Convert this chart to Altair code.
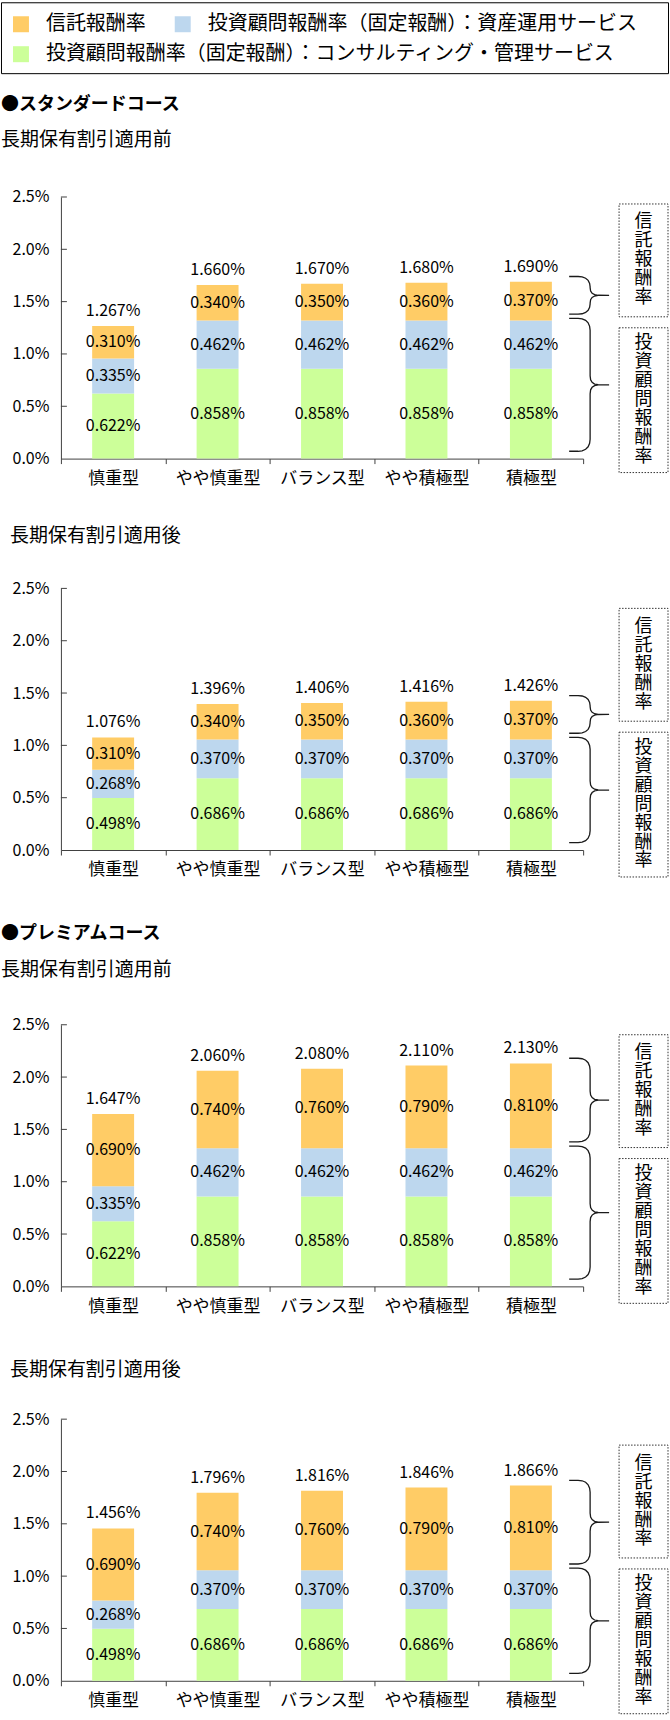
import altair as alt
import pandas as pd

FONT = "Noto Sans CJK JP"
AX = "#404040"

# ---------------- data ----------------
categories = ["慎重型", "やや慎重型", "バランス型", "やや積極型", "積極型"]
series_names = [
    "信託報酬率",
    "投資顧問報酬率（固定報酬）：資産運用サービス",
    "投資顧問報酬率（固定報酬）：コンサルティング・管理サービス",
]
series_colors = ["#FFCC66", "#BDD7EE", "#CCFF99"]

course_titles = ["●スタンダードコース", "●プレミアムコース"]
sub_titles = ["長期保有割引適用前", "長期保有割引適用後"]
box_labels = ["信託報酬率", "投資顧問報酬率"]
y_ticks = [0.0, 0.5, 1.0, 1.5, 2.0, 2.5]

std_pre_trust = [0.310, 0.340, 0.350, 0.360, 0.370]
std_pre_asset = [0.335, 0.462, 0.462, 0.462, 0.462]
std_pre_consult = [0.622, 0.858, 0.858, 0.858, 0.858]
std_pre_total = [1.267, 1.660, 1.670, 1.680, 1.690]

std_post_trust = [0.310, 0.340, 0.350, 0.360, 0.370]
std_post_asset = [0.268, 0.370, 0.370, 0.370, 0.370]
std_post_consult = [0.498, 0.686, 0.686, 0.686, 0.686]
std_post_total = [1.076, 1.396, 1.406, 1.416, 1.426]

prm_pre_trust = [0.690, 0.740, 0.760, 0.790, 0.810]
prm_pre_asset = [0.335, 0.462, 0.462, 0.462, 0.462]
prm_pre_consult = [0.622, 0.858, 0.858, 0.858, 0.858]
prm_pre_total = [1.647, 2.060, 2.080, 2.110, 2.130]

prm_post_trust = [0.690, 0.740, 0.760, 0.790, 0.810]
prm_post_asset = [0.268, 0.370, 0.370, 0.370, 0.370]
prm_post_consult = [0.498, 0.686, 0.686, 0.686, 0.686]
prm_post_total = [1.456, 1.796, 1.816, 1.846, 1.866]

# ---------------- layout ----------------
PW = 523
PH = 262
YMAX = 2.5
BRACE_X = 509
BOX_X1, BOX_X2 = 559, 608
BOX_LH = 19
BOX_FS = 18

one = pd.DataFrame({"k": [0]})
yscale = alt.Scale(domain=[0, YMAX], nice=False, zero=False)

x_axis = alt.Axis(
    title=None, labelAngle=0, tickBand="extent", ticks=True, tickSize=5,
    tickColor=AX, domainColor=AX, labelPadding=7, labelFont=FONT,
    labelFontSize=17, labelColor="#000", grid=False, labelLimit=300,
)
y_axis = alt.Axis(
    title=None, values=y_ticks, labelExpr="format(datum.value, '.1f') + '%'",
    ticks=False, labelPadding=12, grid=False, domainColor=AX,
    labelFont=FONT, labelFontSize=16, labelColor="#000",
)
x_enc = alt.X("cat:N", sort=categories,
              scale=alt.Scale(domain=categories, paddingInner=0, paddingOuter=0),
              axis=x_axis)


def brace_shape(h):
    m = h / 2.0
    f = min(1.0, m / 22.0)
    top = [(0, 0), (9, 0), (13, 0.5 * f), (16.5, 2 * f), (19, 4.5 * f), (20.5, 8 * f), (21, 12 * f)]
    mid_up = [(21, m - 9 * f), (21.5, m - 5 * f), (23, m - 2.5 * f), (25.5, m - 0.8 * f), (29, m - 0.1 * f), (40, m)]
    mid_dn = [(29, m + 0.1 * f), (25.5, m + 0.8 * f), (23, m + 2.5 * f), (21.5, m + 5 * f), (21, m + 9 * f)]
    bot = [(21, h - 12 * f), (20.5, h - 8 * f), (19, h - 4.5 * f), (16.5, h - 2 * f), (13, h - 0.5 * f), (9, h), (0, h)]
    return top + mid_up + mid_dn + bot


def make_chart(trust, asset, consult, totals, box_top_px):
    rows = []
    for i, c in enumerate(categories):
        segs = [(series_names[2], consult[i]), (series_names[1], asset[i]), (series_names[0], trust[i])]
        lo = 0.0
        for s, v in segs:
            rows.append(dict(cat=c, series=s, lo=lo, hi=lo + v, mid=lo + v / 2, label=f"{v:.3f}%"))
            lo += v
    df = pd.DataFrame(rows)
    tdf = pd.DataFrame(dict(cat=categories, total=totals, label=[f"{t:.3f}%" for t in totals]))

    bars = alt.Chart(df).mark_bar(size=42).encode(
        x=x_enc,
        y=alt.Y("lo:Q", scale=yscale, axis=y_axis),
        y2="hi:Q",
        color=alt.Color("series:N", scale=alt.Scale(domain=series_names, range=series_colors), legend=None),
    )
    yt = alt.Chart(pd.DataFrame({"v": y_ticks[1:]})).mark_rule(color=AX, strokeWidth=1).encode(
        y=alt.Y("v:Q", scale=yscale, axis=y_axis), x=alt.value(0), x2=alt.value(6)
    )
    seg_txt = alt.Chart(df).mark_text(font=FONT, fontSize=16, color="#000", baseline="middle").encode(
        x=x_enc, y=alt.Y("mid:Q", scale=yscale, axis=y_axis), text="label:N"
    )
    tot_txt = alt.Chart(tdf).mark_text(font=FONT, fontSize=16, color="#000", baseline="middle", dy=-15).encode(
        x=x_enc, y=alt.Y("total:Q", scale=yscale, axis=y_axis), text="label:N"
    )

    # decorations: braces and dotted boxes
    u = YMAX / PH
    split = max(a + c for a, c in zip(asset, consult))
    top = max(totals)
    pts = []
    for b, (vt, vb) in enumerate([(top + 0.05, split + 0.06), (split + 0.02, 0.07)]):
        h = (vt - vb) / u
        for i, (dx, dy) in enumerate(brace_shape(h)):
            pts.append(dict(b=b, i=i, px=BRACE_X + dx, v=vt - dy * u))
    braces = alt.Chart(pd.DataFrame(pts)).mark_line(color="#1a1a1a", strokeWidth=1.3).encode(
        x=alt.X("px:Q", scale=None, axis=None),
        y=alt.Y("v:Q", scale=yscale, axis=y_axis),
        detail="b:N", order="i:Q",
    )
    bx = []
    chars = []
    t0 = box_top_px
    for txt, (p1, p2) in zip(box_labels, [(t0, t0 + 113), (t0 + 124, t0 + 269)]):
        bx.append(dict(t=YMAX - p1 * u, b=YMAX - p2 * u))
        pc = (p1 + p2) / 2.0
        n = len(txt)
        for j, ch in enumerate(txt):
            pj = pc + (j - (n - 1) / 2.0) * BOX_LH
            chars.append(dict(ch=ch, v=YMAX - pj * u))
    bdf = pd.DataFrame(bx)
    cdf = pd.DataFrame(chars)
    boxes = alt.Chart(bdf).mark_rect(fill="transparent", stroke="#333", strokeDash=[1.5, 1.5], strokeWidth=1).encode(
        x=alt.value(BOX_X1), x2=alt.value(BOX_X2),
        y=alt.Y("t:Q", scale=yscale, axis=y_axis), y2="b:Q",
    )
    box_txt = alt.Chart(cdf).mark_text(font=FONT, fontSize=BOX_FS, baseline="middle", align="center",
                                       color="#000").encode(
        x=alt.value((BOX_X1 + BOX_X2) / 2),
        y=alt.Y("v:Q", scale=yscale, axis=y_axis),
        text="ch:N",
    )
    core = alt.layer(bars, yt, seg_txt, tot_txt)
    deco = alt.layer(braces, boxes, box_txt)
    return alt.layer(core, deco).resolve_scale(x="independent").properties(width=PW, height=PH)


def text_row(h, items):
    layers = []
    for txt, x, y, size, weight in items:
        layers.append(
            alt.Chart(one).mark_text(font=FONT, fontSize=size, fontWeight=weight, align="left",
                                     baseline="middle", color="#000").encode(
                x=alt.value(x), y=alt.value(y), text=alt.value(txt))
        )
    return alt.layer(*layers).properties(width=PW, height=h)


# legend row
leg_layers = [
    alt.Chart(one).mark_rect(fill="transparent", stroke="#000", strokeWidth=1).encode(
        x=alt.value(-59.5), x2=alt.value(608.5), y=alt.value(0.5), y2=alt.value(71.5))
]
leg_pos = [(-48, 22, -15), (114, 22, 147), (-48, 52, -15)]
for (sx, sy, tx), name, col in zip(leg_pos, series_names, series_colors):
    leg_layers.append(
        alt.Chart(one).mark_rect(color=col).encode(
            x=alt.value(sx), x2=alt.value(sx + 16), y=alt.value(sy - 8), y2=alt.value(sy + 8))
    )
    leg_layers.append(
        alt.Chart(one).mark_text(font=FONT, fontSize=20, align="left", baseline="middle", color="#000").encode(
            x=alt.value(tx), y=alt.value(sy), text=alt.value(name))
    )
legend_row = alt.layer(*leg_layers).properties(width=PW, height=72)

t1 = text_row(123, [(course_titles[0], -60, 31, 18, "bold"), (sub_titles[0], -60, 66, 19, "normal")])
c1 = make_chart(std_pre_trust, std_pre_asset, std_pre_consult, std_pre_total, 7)
t2 = text_row(130, [(sub_titles[1], -51, 78, 19, "normal")])
c2 = make_chart(std_post_trust, std_post_asset, std_post_consult, std_post_total, 20)
t3 = text_row(175, [(course_titles[1], -60, 84, 18, "bold"), (sub_titles[0], -60, 120, 19, "normal")])
c3 = make_chart(prm_pre_trust, prm_pre_asset, prm_pre_consult, prm_pre_total, 10)
t4 = text_row(133, [(sub_titles[1], -51, 84, 19, "normal")])
c4 = make_chart(prm_post_trust, prm_post_asset, prm_post_consult, prm_post_total, 26)

chart = alt.vconcat(
    legend_row, t1, c1, t2, c2, t3, c3, t4, c4, spacing=0, bounds="flush"
).properties(padding=0).configure(font=FONT).configure_view(stroke="transparent")

chart.save("out.html", embed_options={"renderer": "svg", "actions": False})
